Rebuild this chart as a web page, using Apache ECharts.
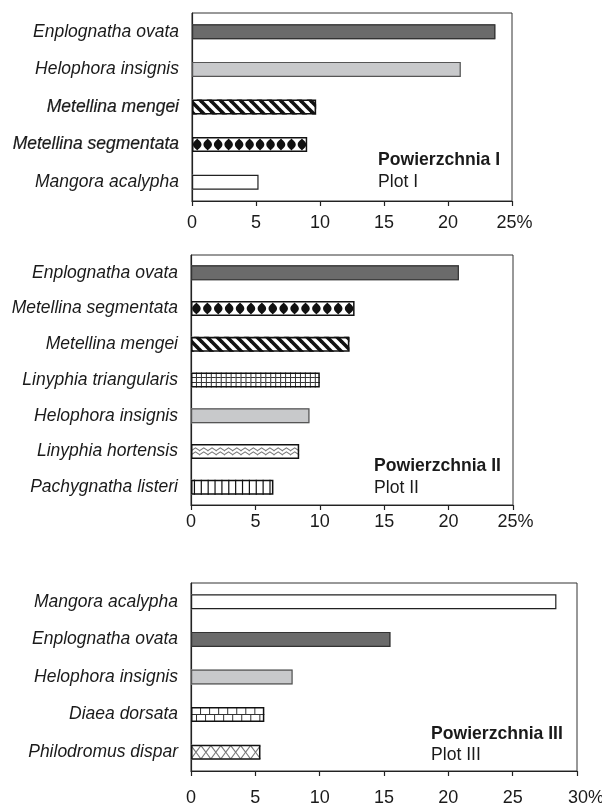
<!DOCTYPE html>
<html><head><meta charset="utf-8">
<script src="https://cdn.jsdelivr.net/npm/echarts@6/dist/echarts.min.js"></script>
<style>html,body{margin:0;padding:0;background:#fff}#c{width:602px;height:805px}</style>
</head><body><div id="c"></div>
<script>
// ---- data ----
const cats1 = ['Enplognatha ovata','Helophora insignis','Metellina mengei','Metellina segmentata','Mangora acalypha'];
const vals1 = [23.7, 21.0, 9.7, 9.0, 5.2];
const cats2 = ['Enplognatha ovata','Metellina segmentata','Metellina mengei','Linyphia triangularis','Helophora insignis','Linyphia hortensis','Pachygnatha listeri'];
const vals2 = [20.8, 12.7, 12.3, 10.0, 9.2, 8.4, 6.4];
const cats3 = ['Mangora acalypha','Enplognatha ovata','Helophora insignis','Diaea dorsata','Philodromus dispar'];
const vals3 = [28.4, 15.5, 7.9, 5.7, 5.4];
const axisMax = [25, 25, 30];
const tickStep = 5;
const plotTitles = ['Powierzchnia I','Powierzchnia II','Powierzchnia III'];
const plotSubs = ['Plot I','Plot II','Plot III'];

// ---- fonts ----
function fontAvailable(name){
  const ctx = document.createElement('canvas').getContext('2d');
  const s = 'abcdefghijklmnopqrstuvwxyz0123456789%';
  ctx.font = '20px monospace'; const a = ctx.measureText(s).width;
  ctx.font = '20px "' + name + '", monospace'; const b = ctx.measureText(s).width;
  return Math.abs(a - b) > 0.5;
}
const NARROW = fontAvailable('Liberation Sans Narrow');
const numFam = NARROW ? 'Liberation Sans Narrow' : 'Liberation Sans';
const numSize = NARROW ? 20 : 18;
function fitSize(text, weight, fam, target){
  const ctx = document.createElement('canvas').getContext('2d');
  ctx.font = weight + ' 20px "' + fam + '"';
  return 20 * target / ctx.measureText(text).width;
}
const titleSize = fitSize('Powierzchnia II', 'bold', numFam, 127);
const subSize = fitSize('Plot II', 'normal', numFam, 45);
const TXT = '#1a1a1a';

// ---- styles ----
function stripeCanvas(){
  const c = document.createElement('canvas'); c.width = 10; c.height = 10;
  const g = c.getContext('2d'); g.fillStyle = '#fff'; g.fillRect(0,0,10,10);
  g.strokeStyle = '#111'; g.lineWidth = 3.6;
  for (const k of [-10, 0, 10]) { g.beginPath(); g.moveTo(k - 2, -2); g.lineTo(k + 12, 12); g.stroke(); }
  return c;
}
const FILL = {
  'Enplognatha ovata': {color: '#6b6b6b', border: '#333', bw: 1.2},
  'Helophora insignis': {color: '#c8c9cb', border: '#555', bw: 1.2},
  'Mangora acalypha': {color: '#fff', border: '#222', bw: 1.2},
  'Metellina mengei': {color: {image: stripeCanvas(), repeat: 'repeat'}, border: '#111', bw: 1.6}
};
const FILL_DEFAULT = {color: '#fff', border: '#111', bw: 1.5};
const PICT = {
  'Metellina segmentata': {symbol: 'path://M4,0 C5,1.5 8,3 8,6 C8,9 5,10.5 4,12 C3,10.5 0,9 0,6 C0,3 3,1.5 4,0 Z', size: [8.5, 12], margin: '1.5!', color: '#111'},
  'Linyphia triangularis': {symbol: 'path://M0,0 L1,0 L1,15 L0,15 Z M0,4.5 L5,4.5 L5,5.5 L0,5.5 Z M0,9.5 L5,9.5 L5,10.5 L0,10.5 Z', size: [5, 15], margin: 0, color: '#333'},
  'Linyphia hortensis': {symbol: 'path://M0,3 L4.5,0 L9,3 L9,4.2 L4.5,1.2 L0,4.2 Z M0,7 L4.5,4 L9,7 L9,8.2 L4.5,5.2 L0,8.2 Z', size: [9, 8.2], margin: 0, color: '#7a7a7a'},
  'Pachygnatha listeri': {symbol: 'rect', size: [1.2, 15], margin: '2.9!', color: '#111'},
  'Diaea dorsata': {symbol: 'path://M0,0 L1,0 L1,7.5 L0,7.5 Z M0,7 L10,7 L10,8 L0,8 Z M5,7.5 L6,7.5 L6,15 L5,15 Z', size: [10, 15], margin: 0, color: '#333'},
  'Philodromus dispar': {symbol: 'path://M0,0 L1.4,0 L5.5,5.6 L9.6,0 L11,0 L6.2,6.5 L11,13 L9.6,13 L5.5,7.4 L1.4,13 L0,13 L4.8,6.5 Z', size: [11, 13], margin: '0.2!', color: '#7a7a7a'}
};
const fillOf = c => FILL[c] || FILL_DEFAULT;

const sets = [[cats1, vals1], [cats2, vals2], [cats3, vals3]];
const grids = [
  {left: 192, top: 13, width: 320, height: 188},
  {left: 191, top: 255, width: 322, height: 250},
  {left: 191, top: 583, width: 386, height: 188}
];
const labelMargins = [13, 8, 18];
const pctPad = [5, 5, 18];
const semiBold = [['Metellina mengei','Metellina segmentata'], [], []];
const titlePos = [[378, 160, 182], [374, 466, 488], [431, 734, 755]];

const option = {
  backgroundColor: '#fff',
  animation: false,
  grid: grids.map(g => Object.assign({show: true, borderColor: '#333', borderWidth: 1, backgroundColor: 'transparent', containLabel: false, outerBoundsMode: 'none'}, g)),
  xAxis: axisMax.map((mx, g) => ({
    gridIndex: g, type: 'value', min: 0, max: mx, interval: tickStep,
    axisLine: {show: true, lineStyle: {color: '#222', width: 1.2}},
    axisTick: {show: true, length: 5, lineStyle: {color: '#222', width: 1.2}},
    splitLine: {show: false},
    axisLabel: {
      margin: labelMargins[g], color: TXT, fontFamily: numFam, fontSize: numSize,
      formatter: v => v === mx ? '{p|' + v + '%}' : String(v),
      rich: {p: {fontFamily: numFam, fontSize: numSize, color: TXT, padding: [0, 0, 0, pctPad[g]]}}
    }
  })),
  yAxis: sets.map(([cats], g) => ({
    gridIndex: g, type: 'category', inverse: true,
    data: cats.map(c => semiBold[g].includes(c) ? {value: c, textStyle: {textBorderColor: TXT, textBorderWidth: 0.2}} : c),
    axisLine: {show: true, lineStyle: {color: '#222', width: 1.2}},
    axisTick: {show: false},
    splitLine: {show: false},
    axisLabel: {fontStyle: 'italic', fontFamily: 'Liberation Sans', fontSize: 17.5, color: TXT, margin: 13}
  })),
  series: [],
  graphic: []
};

sets.forEach(([cats, vals], g) => {
  option.series.push({
    type: 'bar', xAxisIndex: g, yAxisIndex: g, barWidth: 15, barGap: '-100%', z: 2, silent: true,
    data: vals.map((v, i) => ({value: v, itemStyle: {color: fillOf(cats[i]).color, borderWidth: 0}}))
  });
  option.series.push({
    type: 'pictorialBar', xAxisIndex: g, yAxisIndex: g, z: 3, silent: true, barGap: '-100%', symbolRepeat: true,
    data: vals.map((v, i) => {
      const p = PICT[cats[i]];
      return p ? {value: v, symbol: p.symbol, symbolSize: p.size, symbolMargin: p.margin, symbolRepeat: true, symbolBoundingData: v, symbolClip: false, itemStyle: {color: p.color}} : '-';
    })
  });
  option.series.push({
    type: 'bar', xAxisIndex: g, yAxisIndex: g, barWidth: 15, barGap: '-100%', z: 4, silent: true,
    data: vals.map((v, i) => ({value: v, itemStyle: {color: 'rgba(0,0,0,0)', borderColor: fillOf(cats[i]).border, borderWidth: fillOf(cats[i]).bw}}))
  });
  const [tx, ty1, ty2] = titlePos[g];
  option.graphic.push({type: 'text', x: tx, y: ty1, z: 10, style: {text: plotTitles[g], font: 'bold ' + titleSize.toFixed(2) + 'px "' + numFam + '"', fill: TXT, verticalAlign: 'middle'}});
  option.graphic.push({type: 'text', x: tx, y: ty2, z: 10, style: {text: plotSubs[g], font: subSize.toFixed(2) + 'px "' + numFam + '"', fill: TXT, verticalAlign: 'middle'}});
});

const chart = echarts.init(document.getElementById('c'), null, {renderer: 'canvas'});
chart.setOption(option);
</script></body></html>
